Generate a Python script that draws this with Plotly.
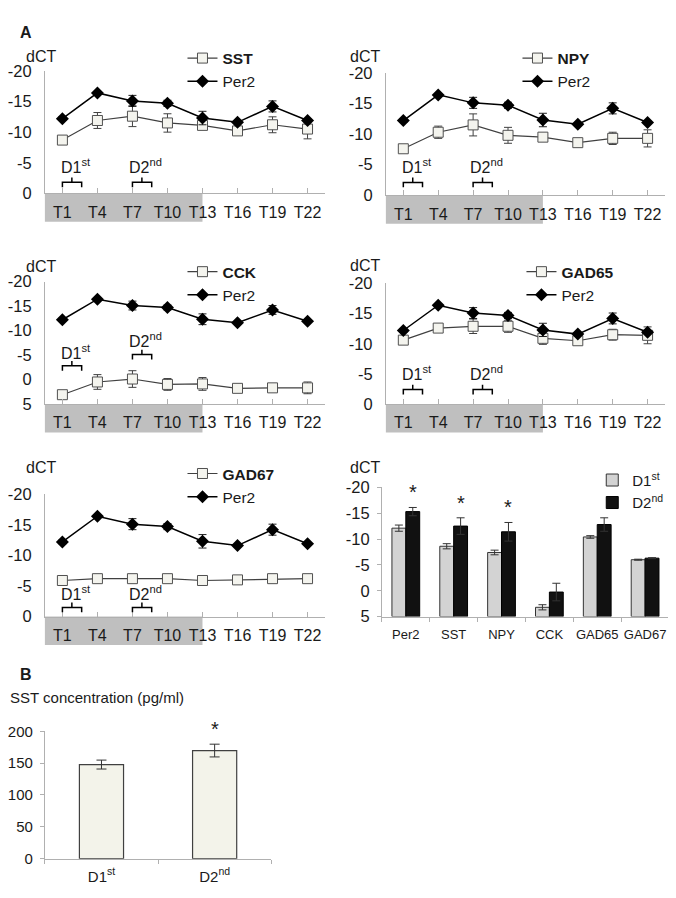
import plotly.graph_objects as go

# the page body keeps an 8px margin, so the figure is drawn 8px smaller and offset
PAGE_W, PAGE_H, PAD = 676, 898, 8
W, H = PAGE_W - PAD, PAGE_H - PAD
FONT = "Liberation Sans, Arial, sans-serif"

# time points (x categories of the line panels)
times = ["T1", "T4", "T7", "T10", "T13", "T16", "T19", "T22"]

dct_ticks = [-20, -15, -10, -5, 0]
dct_labels = ["-20", "-15", "-10", "-5", "0"]
cck_ticks = [-20, -15, -10, -5, 0, 5]
cck_labels = ["-20", "-15", "-10", "-5", "0", "5"]

# dCT values (mean) and error bars
per2 = [-12.2, -16.4, -15.1, -14.7, -12.3, -11.6, -14.2, -11.9]
per2_err = [0.3, 0.2, 0.9, 0.5, 1.1, 0.2, 0.9, 0.2]

sst = [-8.7, -11.9, -12.6, -11.5, -11.1, -10.2, -11.2, -10.5]
sst_err = [0.3, 1.3, 1.7, 1.5, 0.6, 0.4, 1.3, 1.6]

npy = [-7.6, -10.3, -11.5, -9.8, -9.5, -8.6, -9.3, -9.3]
npy_err = [0.2, 1.0, 1.8, 1.3, 0.5, 0.3, 1.0, 1.4]

cck = [3.1, 0.5, -0.1, 1.0, 0.9, 1.8, 1.7, 1.7]
cck_err = [0.3, 1.5, 1.7, 1.2, 1.3, 0.3, 0.3, 1.2]

gad65 = [-10.6, -12.6, -12.9, -12.9, -10.9, -10.5, -11.5, -11.4]
gad65_err = [0.3, 0.3, 1.2, 1.0, 1.0, 0.3, 0.9, 1.4]

gad67 = [-5.9, -6.2, -6.2, -6.2, -5.9, -6.0, -6.2, -6.2]
gad67_err = [0.1, 0.1, 0.1, 0.1, 0.1, 0.1, 0.1, 0.1]

# D1st vs D2nd comparison
genes = ["Per2", "SST", "NPY", "CCK", "GAD65", "GAD67"]
d1 = [-12.1, -8.6, -7.4, 3.2, -10.4, -6.0]
d1_err = [0.6, 0.5, 0.45, 0.5, 0.25, 0.1]
d2 = [-15.3, -12.5, -11.4, 0.25, -12.8, -6.3]
d2_err = [0.8, 1.6, 1.8, 1.7, 1.3, 0.1]
d2_sig = [True, True, True, False, False, False]

# panel B: SST concentration
conc_labels = ["D1<sup>st</sup>", "D2<sup>nd</sup>"]
conc = [147.7, 169.7]
conc_err = [7, 10]
conc_sig = [False, True]


def fx(px):
    return (px - PAD) / W


def fy(py):
    return 1 - (py - PAD) / H


def ax_names(k):
    s = "" if k == 1 else str(k)
    return "x" + s, "y" + s, "xaxis" + s, "yaxis" + s, "legend" + s


AXCOL = "#b0b0b0"
TXT = "#1a1a1a"

fig = go.Figure()
layout = {}
shapes = []
annos = []

# line panels: name, values, errors, plot box (x0, x1, ytop, ybottom px), y range,
# bracket y (D1, D2), label y (D1, D2), legend top-left px
line_panels = [
    ("SST", sst, sst_err, (43, 324, 63, 188), [0, -20], dct_ticks, dct_labels,
     (-1.8, -1.8), (-4.4, -4.4), (181, 33)),
    ("NPY", npy, npy_err, (385, 665, 65, 190), [0, -20], dct_ticks, dct_labels,
     (-2.1, -2.1), (-4.8, -4.8), (517, 33)),
    ("CCK", cck, cck_err, (43, 324, 278, 403), [5, -20], cck_ticks, cck_labels,
     (-2.8, -5.1), (-5.6, -8.0), (181, 251)),
    ("GAD65", gad65, gad65_err, (385, 665, 280, 403), [0, -20], dct_ticks, dct_labels,
     (-2.4, -2.4), (-5.1, -5.1), (521, 251)),
    ("GAD67", gad67, gad67_err, (43, 324, 495, 620), [0, -20], dct_ticks, dct_labels,
     (-1.5, -1.5), (-3.8, -3.8), (181, 457)),
]

for k, (name, vals, errs, box, yr, tv, tt, br, lb, lg) in enumerate(line_panels, start=1):
    xa, ya, xk, yk, lk = ax_names(k)
    x0, x1, yt, yb = box
    xs = list(range(len(times)))
    fig.add_trace(go.Scatter(
        x=xs, y=vals, mode="lines+markers", name="<b>%s</b>" % name,
        error_y=dict(type="data", array=errs, color="#404040", thickness=1, width=4),
        line=dict(color="#404040", width=1.2),
        marker=dict(symbol="square", size=10, color="#f4f4ee", line=dict(color="#505050", width=1)),
        xaxis=xa, yaxis=ya, legend=lk))
    fig.add_trace(go.Scatter(
        x=xs, y=per2, mode="lines+markers", name="Per2",
        error_y=dict(type="data", array=per2_err, color="#202020", thickness=1, width=4),
        line=dict(color="black", width=1.5),
        marker=dict(symbol="diamond", size=10, color="black"),
        xaxis=xa, yaxis=ya, legend=lk))

    layout[xk] = dict(domain=[fx(x0), fx(x1)], anchor=ya, range=[-0.5, 7.5],
                      tickvals=xs, ticktext=times, showline=True, linecolor=AXCOL,
                      ticks="inside", ticklen=5, tickcolor=AXCOL, showgrid=False,
                      zeroline=False, tickfont=dict(size=16, color=TXT), ticklabelstandoff=4,
                      tickangle=0)
    layout[yk] = dict(domain=[fy(yb), fy(yt)], anchor=xa, range=yr, tickvals=tv,
                      ticktext=tt, showline=True, linecolor=AXCOL, ticks="",
                      showgrid=False, zeroline=False, tickfont=dict(size=16.5, color=TXT),
                      ticklabelstandoff=9)
    layout[lk] = dict(x=fx(lg[0]), y=fy(lg[1]), xanchor="left", yanchor="top",
                      bgcolor="rgba(0,0,0,0)", font=dict(size=15.5, color=TXT),
                      tracegroupgap=0, itemwidth=30)

    # dark phase box under the axis (T1..T13)
    boxh = 29 / (yb - yt)
    shapes.append(dict(type="rect", xref=xa + " domain", yref=ya + " domain",
                       x0=0, x1=4.5 / 8, y0=-boxh, y1=0, fillcolor="#bfbfbf",
                       line=dict(width=0), layer="below"))

    # D1st / D2nd brackets
    upp = abs(yr[0] - yr[1]) / (yb - yt)
    for bx, by, ly, txt in [(0, br[0], lb[0], "D1<sup>st</sup>"), (2, br[1], lb[1], "D2<sup>nd</sup>")]:
        xe = bx + 0.55
        xm = bx + 0.27
        path = "M %f,%f L %f,%f L %f,%f L %f,%f M %f,%f L %f,%f" % (
            bx, by + 5 * upp, bx, by, xe, by, xe, by + 5 * upp, xm, by, xm, by - 5 * upp)
        shapes.append(dict(type="path", xref=xa, yref=ya, path=path,
                           line=dict(color="black", width=1.5)))
        annos.append(dict(xref=xa, yref=ya, x=bx + 0.38, y=ly, text=txt, showarrow=False,
                          font=dict(size=16, color=TXT)))

# bar panel: D1st vs D2nd
xa, ya, xk, yk, lk = ax_names(6)
idx = list(range(len(genes)))
off, bw = 0.145, 0.29
fig.add_trace(go.Bar(x=[i - off for i in idx], y=[v - 5 for v in d1], base=5, width=bw,
                     name="D1<sup>st</sup>", marker=dict(color="#d3d3d3", line=dict(color="#333", width=1)),
                     xaxis=xa, yaxis=ya, legend=lk))
fig.add_trace(go.Bar(x=[i + off for i in idx], y=[v - 5 for v in d2], base=5, width=bw,
                     name="D2<sup>nd</sup>", marker=dict(color="#111111", line=dict(color="#000", width=1)),
                     xaxis=xa, yaxis=ya, legend=lk))
for xs_, vals, errs in [([i - off for i in idx], d1, d1_err), ([i + off for i in idx], d2, d2_err)]:
    fig.add_trace(go.Scatter(x=xs_, y=vals, mode="markers", showlegend=False,
                             marker=dict(size=1, color="rgba(0,0,0,0)"),
                             error_y=dict(type="data", array=errs, color="#333", thickness=1, width=4),
                             xaxis=xa, yaxis=ya))
for i in idx:
    if d2_sig[i]:
        annos.append(dict(xref=xa, yref=ya, x=i + off, y=d2[i] - d2_err[i], yanchor="bottom",
                          text="*", showarrow=False, font=dict(size=20, color=TXT), yshift=2))
layout[xk] = dict(domain=[fx(381), fx(669)], anchor=ya, range=[-0.5, 5.5], tickvals=idx,
                  ticktext=genes, showline=True, linecolor=AXCOL, ticks="", showgrid=False,
                  zeroline=False, tickfont=dict(size=13, color=TXT), ticklabelstandoff=6,
                  tickangle=0,
                  minor=dict(tickmode="array", tickvals=[i - 0.5 for i in range(len(genes) + 1)],
                             ticks="outside", ticklen=4, tickcolor=AXCOL, showgrid=False))
layout[yk] = dict(domain=[fy(620), fy(488)], anchor=xa, range=[5, -20], tickvals=cck_ticks,
                  ticktext=cck_labels, showline=True, linecolor=AXCOL, ticks="outside",
                  ticklen=4, tickcolor=AXCOL, showgrid=False, zeroline=False,
                  tickfont=dict(size=16.5, color=TXT), ticklabelstandoff=4)
layout[lk] = dict(x=fx(592), y=fy(464), xanchor="left", yanchor="top",
                  bgcolor="rgba(0,0,0,0)", font=dict(size=15, color=TXT), tracegroupgap=0,
                  itemwidth=30)

# panel B
xa, ya, xk, yk, lk = ax_names(7)
cx = list(range(len(conc)))
fig.add_trace(go.Bar(x=cx, y=conc, width=0.39, showlegend=False,
                     marker=dict(color="#f3f3ea", line=dict(color="#404040", width=1.2)),
                     xaxis=xa, yaxis=ya))
fig.add_trace(go.Scatter(x=cx, y=conc, mode="markers", showlegend=False,
                         marker=dict(size=1, color="rgba(0,0,0,0)"),
                         error_y=dict(type="data", array=conc_err, color="#333", thickness=1, width=5),
                         xaxis=xa, yaxis=ya))
for i in cx:
    if conc_sig[i]:
        annos.append(dict(xref=xa, yref=ya, x=i, y=conc[i] + conc_err[i], yanchor="bottom",
                          text="*", showarrow=False, font=dict(size=20, color=TXT), yshift=2))
layout[xk] = dict(domain=[fx(43), fx(270)], anchor=ya, range=[-0.5, 1.5], tickvals=cx,
                  ticktext=conc_labels, showline=True, linecolor=AXCOL, ticks="", showgrid=False,
                  zeroline=False, tickfont=dict(size=15, color=TXT), ticklabelstandoff=4,
                  minor=dict(tickmode="array", tickvals=[-0.5, 0.5, 1.5], ticks="outside",
                             ticklen=4, tickcolor=AXCOL, showgrid=False))
layout[yk] = dict(domain=[fy(867), fy(737)], anchor=xa, range=[0, 200], tickvals=[0, 50, 100, 150, 200],
                  showline=True, linecolor=AXCOL, ticks="outside", ticklen=4, tickcolor=AXCOL,
                  showgrid=False, zeroline=False, tickfont=dict(size=15, color=TXT), ticklabelstandoff=4)

# panel letters and axis titles
for txt, x, y, size in [("<b>A</b>", 16, 13, 16), ("<b>B</b>", 16, 690, 16),
                        ("dCT", 22, 38, 16), ("dCT", 364, 38, 16),
                        ("dCT", 22, 252, 16), ("dCT", 364, 251, 16),
                        ("dCT", 22, 468, 16), ("dCT", 364, 468, 16)]:
    annos.append(dict(xref="paper", yref="paper", x=fx(x), y=fy(y), text=txt, showarrow=False,
                      font=dict(size=size, color=TXT)))
annos.append(dict(xref="paper", yref="paper", x=fx(6), y=fy(713), xanchor="left",
                  text="SST concentration (pg/ml)", showarrow=False, font=dict(size=15, color=TXT)))

fig.update_layout(**layout)
fig.update_layout(width=W, height=H, margin=dict(l=0, r=0, t=0, b=0), autosize=False,
                  paper_bgcolor="white", plot_bgcolor="rgba(0,0,0,0)", barmode="overlay",
                  font=dict(family=FONT, color=TXT), shapes=shapes, annotations=annos,
                  hovermode=False)

fig.write_html("out.html")
